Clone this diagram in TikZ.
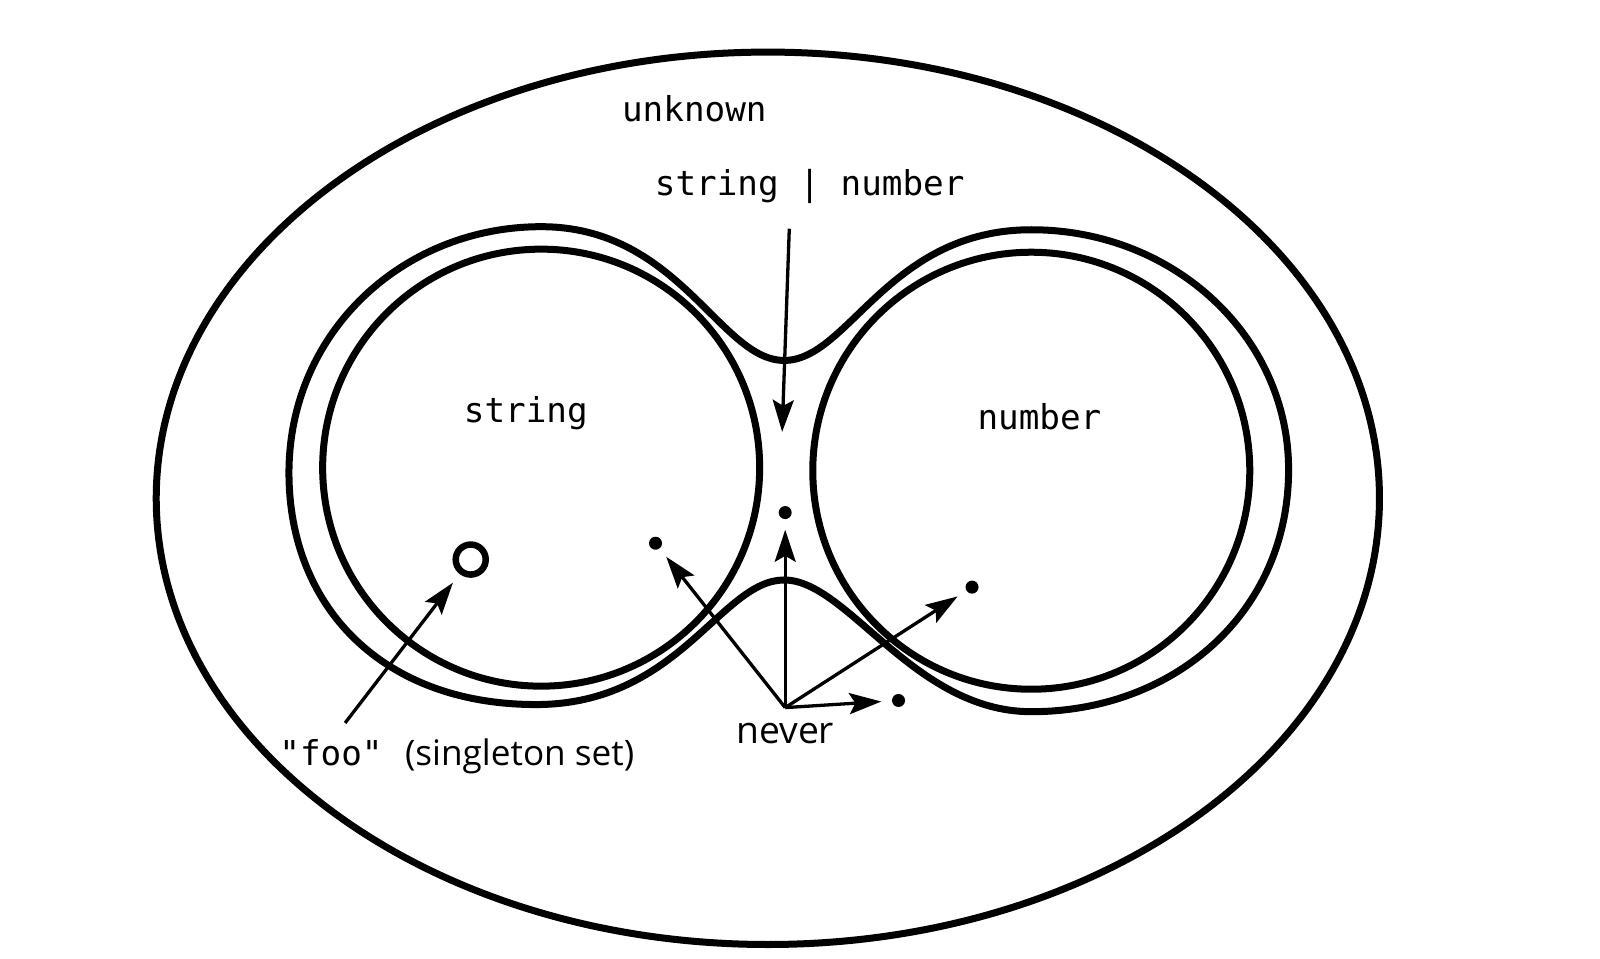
\documentclass[tikz,border=0pt]{standalone}
\usepackage{fontspec}
\setmonofont{DejaVu Sans Mono}
\setsansfont{Open Sans}
\usetikzlibrary{arrows.meta}
\tikzset{
  thickline/.style={line width=0.07cm},
  arr/.style={line width=0.033cm, -{Stealth[length=0.32cm,width=0.21cm,inset=0.06cm]}},
  dot/.style={circle, fill=black, inner sep=0pt, minimum size=0.13cm},
  codelbl/.style={font=\ttfamily\fontsize{9.75}{11}\selectfont, inner sep=0pt},
  sanslbl/.style={font=\sffamily\fontsize{10}{12}\selectfont, inner sep=0pt},
}
\begin{document}
\begin{tikzpicture}[x=0.010211cm,y=-0.010211cm]
\useasboundingbox (0,0) rectangle (1567,939.2);
\fill[white] (0,0) rectangle (1567,939.2);
% outer ellipse: unknown
\draw[thickline] (752,488) ellipse [x radius=599, y radius=437];
% string and number circles
\draw[thickline] (530,458) circle [radius=214];
\draw[thickline] (1010,461) circle [radius=214];
% union contour
\draw[thickline] (283,463) .. controls (283,325) and (395,222) .. (530,222)
  .. controls (665,222) and (705,353) .. (768,353)
  .. controls (831,353) and (870,225) .. (1010,225)
  .. controls (1150,225) and (1262,330) .. (1262,460)
  .. controls (1262,600) and (1150,697) .. (1010,697)
  .. controls (895,697) and (830,568) .. (768,568)
  .. controls (706,568) and (665,690) .. (525,690)
  .. controls (375,690) and (283,595) .. (283,463) -- cycle;
% labels
\node[codelbl] (unk) at (680,106) {unknown};
\node[codelbl] (sn) at (793,183) {string | number};
\node[codelbl] (str) at (515,405) {string};
\node[codelbl] (num) at (1018,408) {number};
\node[codelbl, anchor=base west] (foolbl) at (273,750) {"foo"};
\node[sanslbl, anchor=base west] (single) at (396,750) {(singleton set)};
\node[sanslbl, font=\sffamily\fontsize{10.6}{12}\selectfont, anchor=base] (nev) at (769,728) {never};
% elements
\node[circle, draw, line width=0.065cm, minimum size=0.3cm, inner sep=0pt] (foo) at (461,548) {};
\node[dot] (d1) at (642,532) {};
\node[dot] (d2) at (769,502) {};
\node[dot] (d3) at (952,575) {};
\node[dot] (d4) at (880,686) {};
\coordinate (nv) at (769,693);
\coordinate (snstart) at (773,224);
\coordinate (snend) at (766,423);
\coordinate (foostart) at (338,708);
% arrows
\draw[arr] (snstart) -- (snend);
\draw[arr, shorten >=0.11cm] (foostart) -- (foo);
\draw[arr, shorten >=0.1cm] (nv) -- (d1);
\draw[arr, shorten >=0.1cm] (nv) -- (d2);
\draw[arr, shorten >=0.1cm] (nv) -- (d3);
\draw[arr, shorten >=0.1cm] (nv) -- (d4);
\end{tikzpicture}
\end{document}
